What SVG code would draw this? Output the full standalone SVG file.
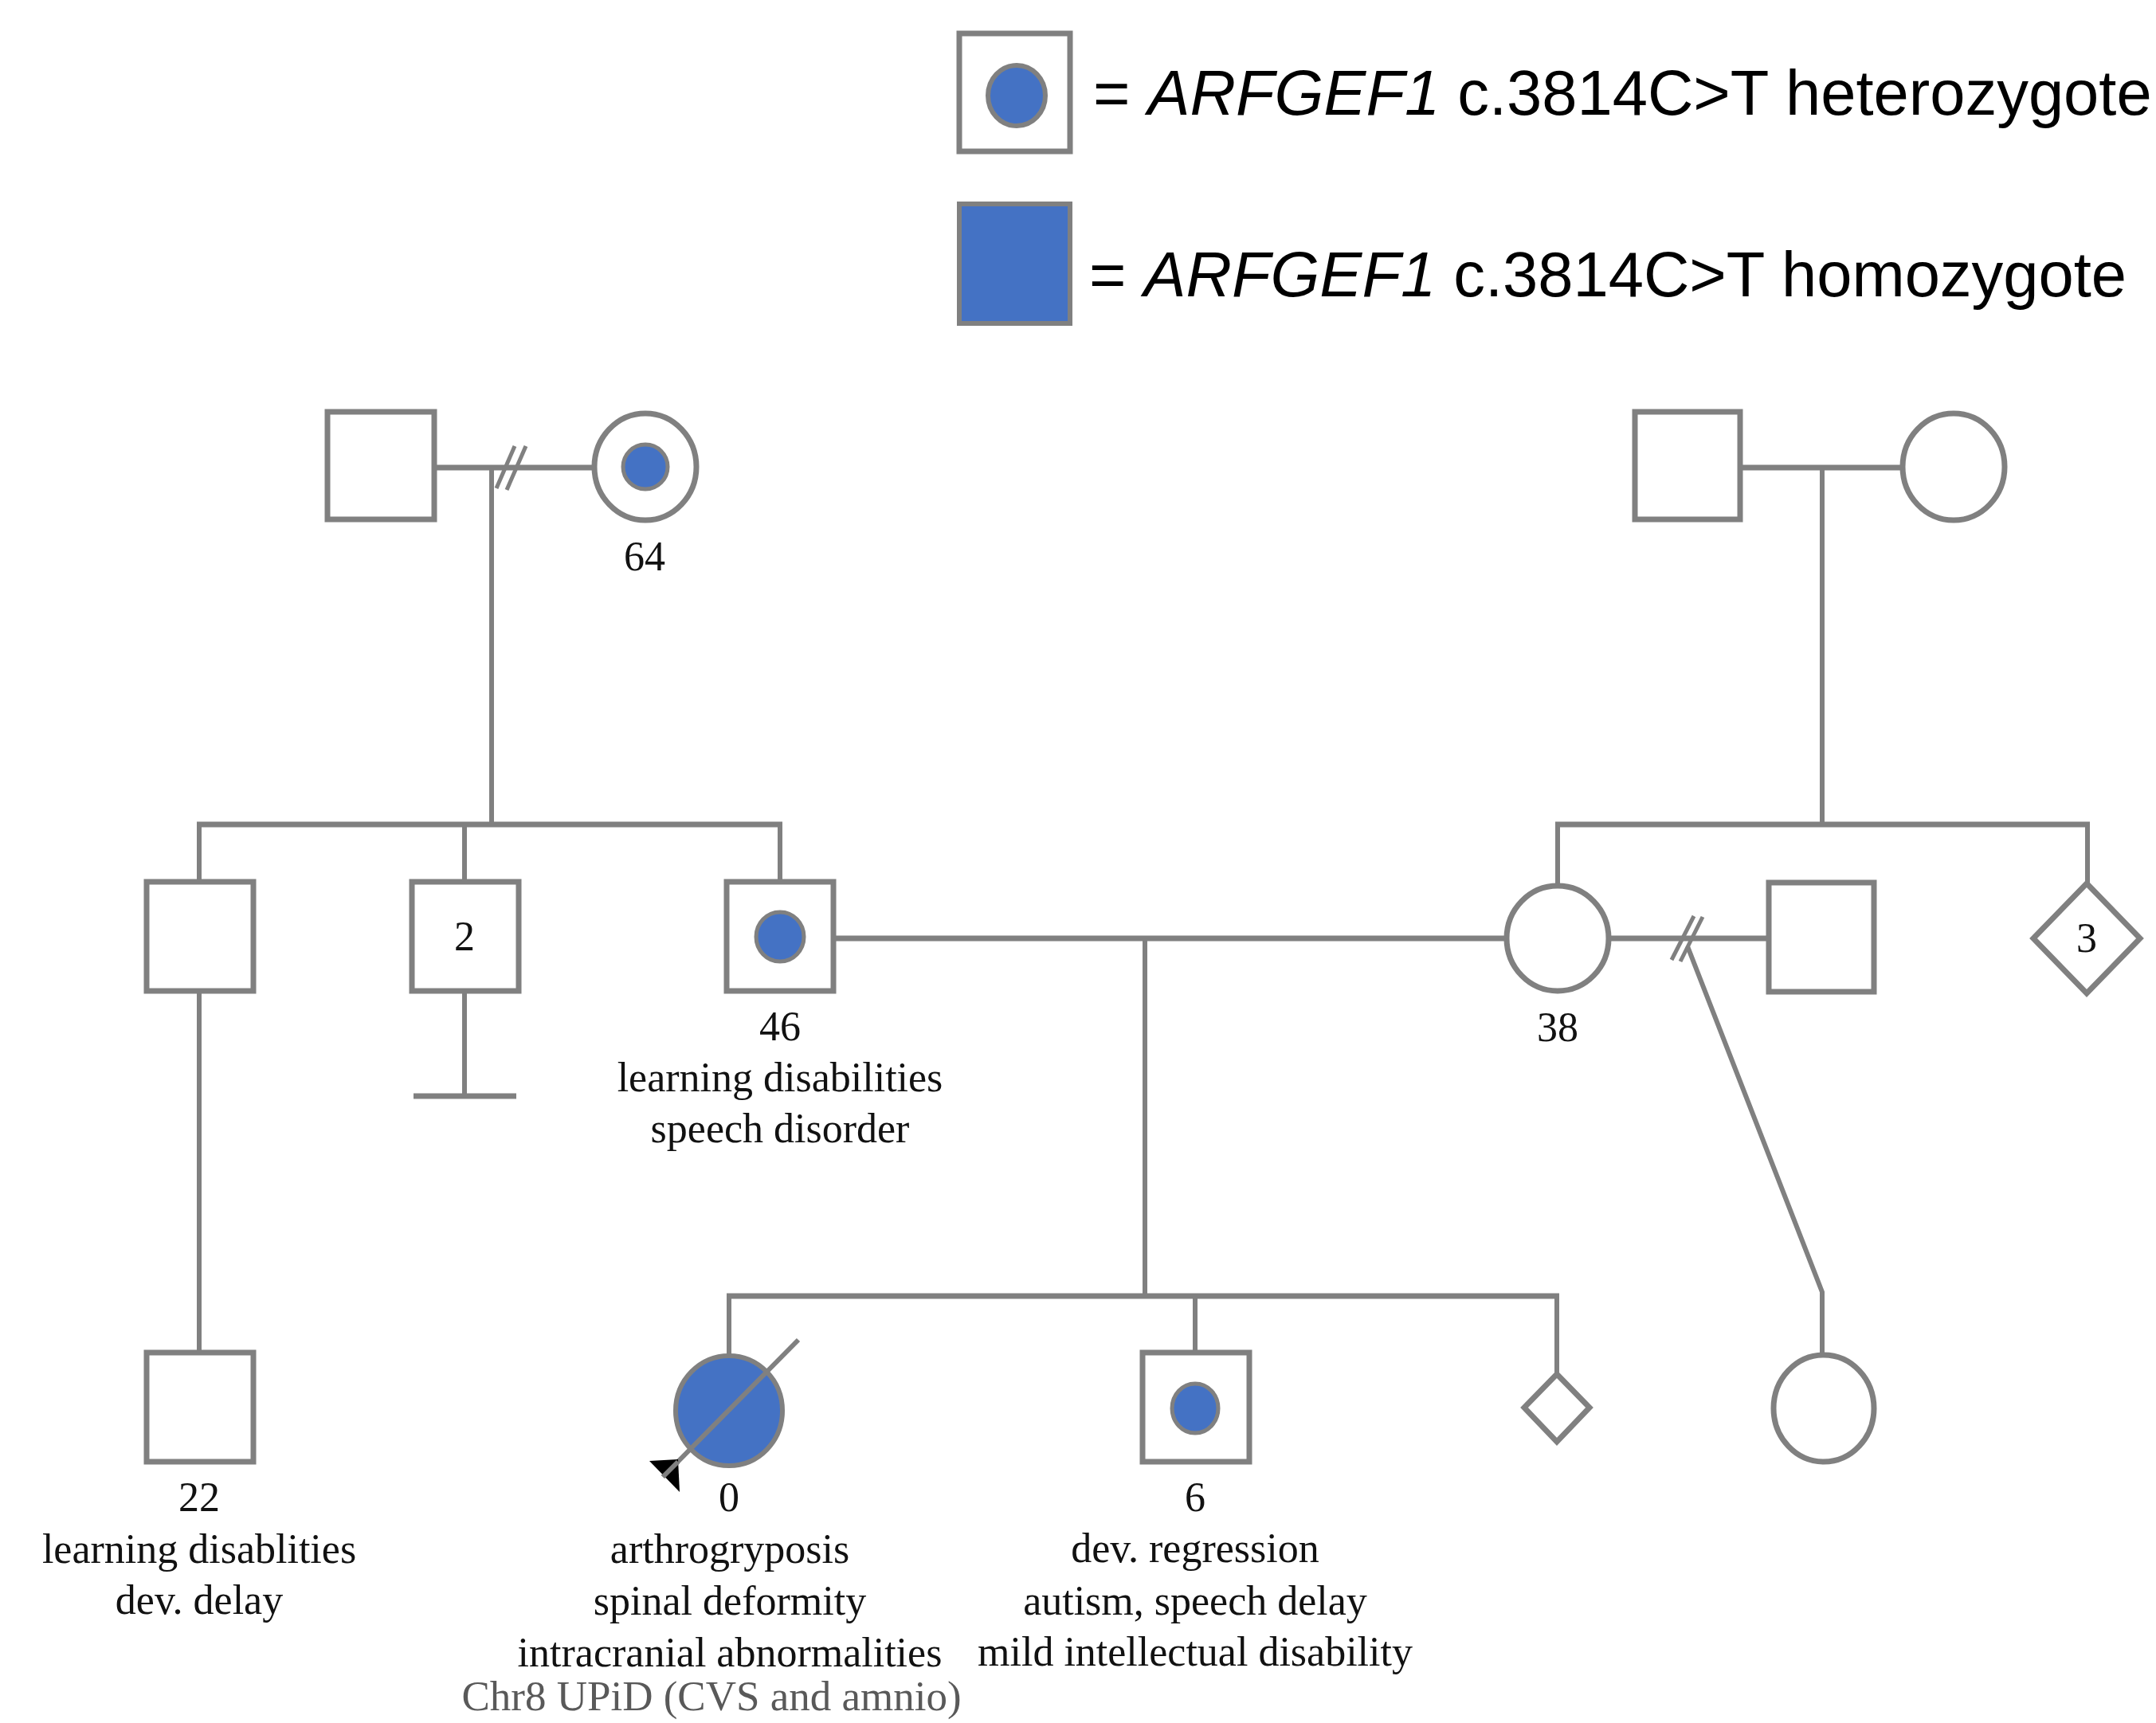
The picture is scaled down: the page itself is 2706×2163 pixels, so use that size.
<svg xmlns="http://www.w3.org/2000/svg" width="2706" height="2163" viewBox="0 0 2706 2163">
<defs>
<style>
.sh{fill:#fff;stroke:#808080;stroke-width:7}
.blue{fill:#4472c4;stroke:#808080;stroke-width:6}
.dot{fill:#4472c4;stroke:#808080;stroke-width:5}
.ln{stroke:#808080;stroke-width:7;fill:none}
.vl{stroke:#808080;stroke-width:6;fill:none}
.dv{stroke:#808080;stroke-width:5;fill:none}
.leg{font-family:"Liberation Sans",Arial,sans-serif;font-size:79.5px;fill:#000}
.lb{font-family:"Liberation Serif","Times New Roman",serif;font-size:52px;fill:#111;text-anchor:middle}
.gr{font-family:"Liberation Serif","Times New Roman",serif;font-size:53px;fill:#595959;text-anchor:middle}
</style>
</defs>
<rect width="2706" height="2163" fill="#fff"/>

<g id="legend">
  <g id="legend-het">
    <rect class="sh" x="1204" y="42" width="139" height="148" stroke-width="6"/>
    <ellipse class="blue" cx="1276" cy="120" rx="36" ry="38"/>
    <text class="leg" x="1372" y="144">= <tspan font-style="italic">ARFGEF1</tspan> c.3814C&gt;T heterozygote</text>
  </g>
  <g id="legend-hom">
    <rect class="blue" x="1204" y="256" width="139" height="150"/>
    <text class="leg" x="1367" y="372">= <tspan font-style="italic">ARFGEF1</tspan> c.3814C&gt;T homozygote</text>
  </g>
</g>

<g id="connectors">
  <line class="ln" x1="545" y1="587" x2="746" y2="587"/>
  <line class="dv" x1="623" y1="613" x2="646" y2="560"/>
  <line class="dv" x1="636" y1="615" x2="660" y2="560"/>
  <line class="vl" x1="617" y1="587" x2="617" y2="1035"/>
  <line class="ln" x1="2184" y1="587" x2="2388" y2="587"/>
  <line class="vl" x1="2287" y1="587" x2="2287" y2="1035"/>
  <line class="ln" x1="247" y1="1035" x2="982" y2="1035"/>
  <line class="vl" x1="250" y1="1035" x2="250" y2="1107"/>
  <line class="vl" x1="583" y1="1035" x2="583" y2="1107"/>
  <line class="vl" x1="979" y1="1035" x2="979" y2="1107"/>
  <line class="ln" x1="1952" y1="1035" x2="2623" y2="1035"/>
  <line class="vl" x1="1955" y1="1035" x2="1955" y2="1112"/>
  <line class="vl" x1="2620" y1="1035" x2="2620" y2="1109"/>
  <line class="vl" x1="583" y1="1244" x2="583" y2="1376"/>
  <line class="ln" x1="519" y1="1376" x2="648" y2="1376" stroke-width="9"/>
  <line class="vl" x1="250" y1="1244" x2="250" y2="1698"/>
  <line class="ln" x1="1046" y1="1178" x2="1891" y2="1178"/>
  <line class="vl" x1="1437" y1="1178" x2="1437" y2="1627"/>
  <line class="ln" x1="2019" y1="1178" x2="2220" y2="1178"/>
  <line class="dv" x1="2098" y1="1205" x2="2126" y2="1150"/>
  <line class="dv" x1="2109" y1="1207" x2="2137" y2="1151"/>
  <polyline class="vl" points="2118,1188 2287,1622 2287,1701"/>
  <line class="ln" x1="912" y1="1627" x2="1957" y2="1627"/>
  <line class="vl" x1="915" y1="1627" x2="915" y2="1702"/>
  <line class="vl" x1="1500" y1="1627" x2="1500" y2="1698"/>
  <line class="vl" x1="1954" y1="1627" x2="1954" y2="1724"/>
</g>

<g id="I-1"><rect class="sh" x="411" y="517" width="134" height="135"/></g>
<g id="I-2">
  <ellipse class="sh" cx="810" cy="586" rx="64" ry="67"/>
  <circle class="dot" cx="810" cy="586" r="28"/>
  <text class="lb" x="809" y="716">64</text>
</g>
<g id="I-3"><rect class="sh" x="2052" y="517" width="132" height="135"/></g>
<g id="I-4"><ellipse class="sh" cx="2452" cy="586" rx="64" ry="67"/></g>

<g id="II-1"><rect class="sh" x="184" y="1107" width="134" height="137"/></g>
<g id="II-2">
  <rect class="sh" x="517" y="1107" width="134" height="137"/>
  <text class="lb" x="583" y="1193">2</text>
</g>
<g id="II-3">
  <rect class="sh" x="912" y="1107" width="134" height="137"/>
  <ellipse class="dot" cx="979" cy="1176" rx="30" ry="31"/>
  <text class="lb" x="979" y="1306">46</text>
  <text class="lb" x="979" y="1370">learning disabilities</text>
  <text class="lb" x="979" y="1434">speech disorder</text>
</g>
<g id="II-4">
  <ellipse class="sh" cx="1955" cy="1178" rx="64" ry="66"/>
  <text class="lb" x="1955" y="1307">38</text>
</g>
<g id="II-5"><rect class="sh" x="2220" y="1108" width="132" height="137"/></g>
<g id="II-6">
  <polygon class="sh" points="2619,1109 2686,1178 2619,1247 2552,1178"/>
  <text class="lb" x="2619" y="1195">3</text>
</g>

<g id="III-1">
  <rect class="sh" x="184" y="1698" width="134" height="137"/>
  <text class="lb" x="250" y="1897">22</text>
  <text class="lb" x="250" y="1962">learning disablities</text>
  <text class="lb" x="250" y="2026">dev. delay</text>
</g>
<g id="III-2">
  <ellipse class="blue" cx="915" cy="1771" rx="67" ry="69"/>
  <line class="vl" x1="1002" y1="1682" x2="832" y2="1854"/>
  <polygon points="851,1832 815,1834 853,1873" fill="#000"/>
  <line class="vl" x1="851" y1="1835" x2="832" y2="1854"/>
  <text class="lb" x="915" y="1897">0</text>
  <text class="lb" x="916" y="1962">arthrogryposis</text>
  <text class="lb" x="916" y="2027">spinal deformity</text>
  <text class="lb" x="916" y="2092">intracranial abnormalities</text>
  <text class="gr" x="893" y="2147">Chr8 UPiD (CVS and amnio)</text>
</g>
<g id="III-3">
  <rect class="sh" x="1434" y="1698" width="134" height="137"/>
  <ellipse class="dot" cx="1500" cy="1768" rx="29" ry="31"/>
  <text class="lb" x="1500" y="1897">6</text>
  <text class="lb" x="1500" y="1961">dev. regression</text>
  <text class="lb" x="1500" y="2027">autism, speech delay</text>
  <text class="lb" x="1500" y="2091">mild intellectual disability</text>
</g>
<g id="III-4"><polygon class="sh" points="1954,1725 1995,1767 1954,1810 1913,1767"/></g>
<g id="III-5"><ellipse class="sh" cx="2289" cy="1768" rx="63" ry="67"/></g>
</svg>
